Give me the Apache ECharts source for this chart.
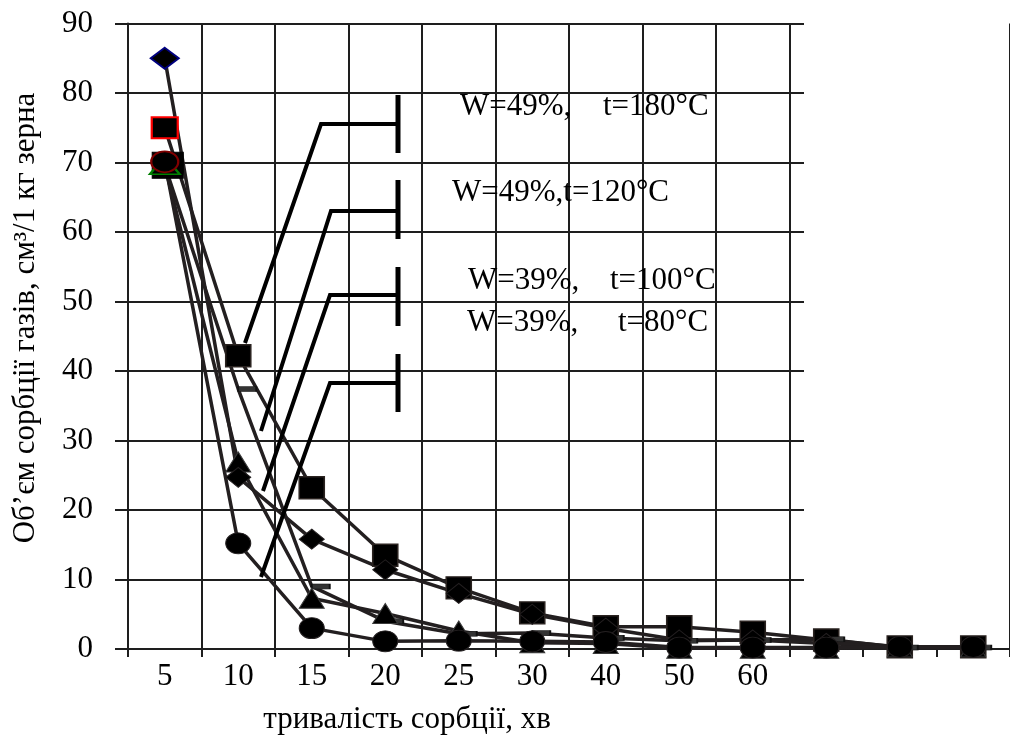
<!DOCTYPE html>
<html>
<head>
<meta charset="utf-8">
<script src="https://cdn.jsdelivr.net/npm/echarts@6/dist/echarts.min.js"></script>
<style>
  html, body { margin: 0; padding: 0; background: #fff; }
  #chart { width: 1010px; height: 736px; }
</style>
</head>
<body>
<div id="chart"></div>
<script>
// Sorption time categories (min); the last three positions carry no label
const categories = ['5', '10', '15', '20', '25', '30', '40', '50', '60', '', '', ''];

// Gas sorption volume, cm3 per 1 kg of grain
const volSquare   = [75.0, 42.2, 23.2, 13.5, 8.8, 5.2, 3.2, 3.2, 2.4, 1.3, 0.3, 0.3];
const volDash     = [69.6, 37.4, 9.0, 4.0, 2.2, 2.3, 1.6, 1.2, 1.3, 1.4, 0.2, 0.2];
const volDiamond  = [85.0, 24.7, 15.8, 11.4, 8.0, 5.0, 3.0, 1.3, 1.3, 0.8, 0.3, 0.3];
const volTriangle = [69.6, 26.9, 7.3, 5.1, 2.6, 0.9, 0.8, 0.1, 0.1, 0.1, 0.3, 0.3];
const volCircle   = [70.1, 15.2, 3.0, 1.1, 1.2, 1.1, 1.0, 0.2, 0.2, 0.2, 0.3, 0.3];

// Regime captions
const regimeNames = ['W=49%,t=180°C', 'W=49%,t=120°C', 'W=39%,t=100°C', 'W=39%,t=80°C'];

const yName = 'Об’єм сорбції газів, см³/1 кг зерна';
const xName = 'тривалість сорбції, хв';

const FONT = '"Liberation Serif", "Times New Roman", serif';
const FS = 31;
const INK = '#231f20';
const RULE = '#1e1e1e';
const ELLIPSE = 'path://M1,0A1,1,0,1,1,1,2A1,1,0,1,1,1,0Z';

// first point of each curve keeps its own outline colour
function withFirst(values, first) {
  return values.map((v, i) => (i === 0 ? Object.assign({ value: v }, first) : v));
}

function lineSeries(name, values, symbol, size, extra) {
  return Object.assign({
    name: name,
    type: 'line',
    xAxisIndex: 0,
    yAxisIndex: 0,
    data: values,
    symbol: symbol,
    symbolSize: size,
    showAllSymbol: true,
    clip: false,
    lineStyle: { color: INK, width: 3.5 },
    itemStyle: { color: '#000', borderColor: INK, borderWidth: 1 },
    emphasis: { disabled: true },
    silent: true
  }, extra || {});
}

const chart = echarts.init(document.getElementById('chart'), null, { renderer: 'canvas' });

const series = [
  lineSeries(regimeNames[0], withFirst(volSquare, {
    symbolSize: [26, 21], itemStyle: { color: '#000', borderColor: '#ff0000', borderWidth: 2 }
  }), 'rect', [25, 22], { itemStyle: { color: '#000', borderColor: '#2a2320', borderWidth: 1.5 } }),
  lineSeries(regimeNames[1], withFirst(volDash, {
    symbol: 'rect', symbolSize: [31, 26], symbolOffset: [3, 0],
    itemStyle: { color: '#000', borderColor: '#000' }
  }), 'rect', [18, 5], { symbolOffset: [9, 0], itemStyle: { color: '#333', borderColor: '#111', borderWidth: 1 } }),
  lineSeries('', withFirst(volTriangle, {
    symbolSize: [30, 18], itemStyle: { color: '#000', borderColor: '#008000', borderWidth: 2 }
  }), 'triangle', [25, 20], { itemStyle: { color: '#000', borderColor: '#3a3a3a', borderWidth: 1 } }),
  lineSeries(regimeNames[2], withFirst(volDiamond, {
    symbolSize: [28, 21], itemStyle: { color: '#000', borderColor: '#000080', borderWidth: 2 }
  }), 'diamond', [25, 20]),
  lineSeries(regimeNames[3], withFirst(volCircle, {
    symbolSize: [27, 21], itemStyle: { color: '#000', borderColor: '#800000', borderWidth: 2 }
  }), ELLIPSE, [25, 21])
];

// leader lines from the captions to their curves (pixel layout)
const leaders = [
  { tail: [245, 343], knee: [321, 124], barX: 398, barY: [95, 153] },
  { tail: [261, 431], knee: [331, 211], barX: 398, barY: [180, 239] },
  { tail: [263, 491], knee: [330, 295], barX: 398, barY: [267, 326] },
  { tail: [261, 577], knee: [330, 383], barX: 398, barY: [354, 412] }
];
const captionPos = [
  { y: 107, parts: [460, 603] },
  { y: 193, parts: [452] },
  { y: 281, parts: [468, 610] },
  { y: 323, parts: [467, 618] }
];

const graphics = [];
leaders.forEach(function (l) {
  graphics.push({
    type: 'polyline', silent: true, z: 10,
    shape: { points: [l.tail, l.knee, [l.barX, l.knee[1]]] },
    style: { stroke: '#000', lineWidth: 4, fill: null, lineJoin: 'miter' }
  });
  graphics.push({
    type: 'line', silent: true, z: 10,
    shape: { x1: l.barX, y1: l.barY[0], x2: l.barX, y2: l.barY[1] },
    style: { stroke: '#000', lineWidth: 5 }
  });
});
captionPos.forEach(function (c, i) {
  const name = regimeNames[i];
  const pieces = c.parts.length === 1 ? [name] : [name.slice(0, name.indexOf(',') + 1), name.slice(name.indexOf(',') + 1)];
  pieces.forEach(function (txt, k) {
    graphics.push({
      type: 'text', silent: true, z: 10,
      x: c.parts[k], y: c.y,
      style: { text: txt, font: FS + 'px ' + FONT, fill: '#000', align: 'left', verticalAlign: 'middle' }
    });
  });
});
graphics.push({
  type: 'text', silent: true, z: 10,
  x: 26, y: 318, rotation: Math.PI / 2,
  style: { text: yName, font: FS + 'px ' + FONT, fill: '#000', align: 'center', verticalAlign: 'middle' }
});
graphics.push({
  type: 'text', silent: true, z: 10,
  x: 407, y: 720,
  style: { text: xName, font: FS + 'px ' + FONT, fill: '#000', align: 'center', verticalAlign: 'middle' }
});

chart.setOption({
  animation: false,
  backgroundColor: '#fff',
  grid: [
    { left: 128, top: 23.5, right: -10, bottom: 87 },
    { left: 128, top: 23.5, width: 676, bottom: 87 }
  ],
  xAxis: [
    {
      gridIndex: 0,
      type: 'category',
      data: categories,
      boundaryGap: true,
      axisLine: { show: true, lineStyle: { color: RULE, width: 2 } },
      axisTick: { show: true, length: 8, interval: 0, lineStyle: { color: RULE, width: 2 } },
      axisLabel: { interval: 0, margin: 12, color: '#000', fontSize: FS, fontFamily: FONT },
      splitLine: {
        show: true,
        interval: function (idx) { return idx <= 9; },
        lineStyle: { color: RULE, width: 2 }
      }
    },
    { gridIndex: 1, type: 'value', min: 0, max: 1, show: false }
  ],
  yAxis: [
    {
      gridIndex: 0,
      type: 'value',
      min: 0, max: 90, interval: 10,
      axisLine: { show: true, lineStyle: { color: RULE, width: 2 } },
      axisTick: { show: true, length: 13, lineStyle: { color: RULE, width: 2 } },
      axisLabel: { margin: 35, color: '#000', fontSize: FS, fontFamily: FONT },
      splitLine: { show: false }
    },
    {
      gridIndex: 1,
      type: 'value',
      min: 0, max: 90, interval: 10,
      axisLine: { show: false }, axisTick: { show: false }, axisLabel: { show: false },
      splitLine: { show: true, lineStyle: { color: RULE, width: 2 } }
    }
  ],
  series: series,
  graphic: graphics
});
</script>
</body>
</html>
